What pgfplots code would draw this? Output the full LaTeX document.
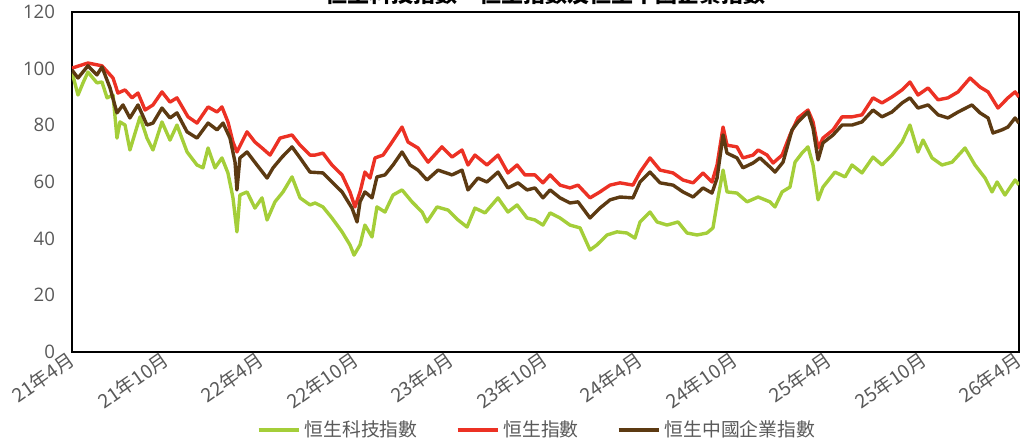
\documentclass[border=0pt]{standalone}
\usepackage{pgfplots}
\pgfplotsset{compat=1.18}
\usepackage{fontspec}
\setmainfont{Open Sans}
\newfontfamily\cjk{Noto Sans CJK TC}

\definecolor{hstech}{RGB}{164,206,57}
\definecolor{hsi}{RGB}{236,49,36}
\definecolor{hscei}{RGB}{92,58,18}
\definecolor{ticktext}{RGB}{89,89,89}

% x = months since Apr 2021
\pgfplotstableread{
x y
0 98.8
0.38 90.7
0.70 95
1.01 98.8
1.58 95
1.90 95.3
2.22 89.7
2.60 90.7
2.85 75.5
3.04 81.2
3.36 80.1
3.67 71.3
4.31 83
4.75 75.5
5.13 71.3
5.70 81.2
6.21 74.8
6.65 80.1
7.29 70.6
7.92 66
8.30 65
8.62 72
9.06 65
9.50 68.5
9.88 63.2
10.20 54.4
10.45 42.4
10.64 55.4
11.09 56.5
11.59 50.8
12.04 54.4
12.36 46.6
12.86 53
13.37 56.5
13.94 61.8
14.45 54.4
15.08 51.9
15.40 52.6
15.90 51.2
16.47 47.3
17.11 42.4
17.61 37.8
17.87 34.2
18.25 37.8
18.56 44.8
19.01 40.6
19.32 51.2
19.83 49.4
20.34 55.4
20.91 57.2
21.54 53
22.18 49.4
22.49 45.9
23.13 51.2
23.82 50.1
24.46 46.6
25.03 44.1
25.53 50.8
26.17 49.1
26.99 54.4
27.62 49.4
28.20 51.9
28.83 47.3
29.33 46.6
29.84 44.8
30.29 49.1
30.92 47.3
31.55 44.8
32.19 43.8
32.82 36
33.26 37.8
33.90 41.3
34.53 42.4
35.16 42
35.67 40.2
35.99 45.9
36.62 49.4
37.07 45.9
37.70 44.8
38.40 45.9
38.97 42
39.60 41.3
40.23 42
40.61 43.8
40.93 54.4
41.25 64.2
41.50 56.5
42.13 56.1
42.77 53
43.47 54.7
44.22 53
44.54 51.2
44.99 56.5
45.49 58.2
45.81 67
46.25 70.2
46.63 72.4
46.95 66
47.27 53.7
47.58 58.2
48.34 63.5
48.98 61.8
49.42 66
50.05 63.2
50.75 68.8
51.32 66
51.95 69.5
52.59 74.1
53.09 80.1
53.60 70.6
53.92 74.8
54.49 68.5
55.12 66
55.76 67
56.58 72
57.21 66
57.85 61.4
58.29 56.5
58.61 60
59.11 55.4
59.75 60.7
60 59
}\hstech

\pgfplotstableread{
x y
0 100.2
1.01 102
1.90 101
2.60 96.7
2.91 91.4
3.36 92.5
3.80 89.7
4.18 91.4
4.63 85.4
5.13 87.2
5.70 91.8
6.21 88.2
6.65 89.7
7.35 83
7.92 80.8
8.62 86.5
9.19 84.7
9.50 86.5
9.88 81.2
10.20 74.1
10.45 70.6
11.09 77.7
11.59 74.1
12.04 72
12.55 69.5
13.18 75.5
13.94 76.6
14.45 73
15.08 69.5
15.40 69.5
15.90 70.2
16.47 66
17.11 62.5
17.61 56.5
17.93 51.2
18.25 56.5
18.56 63.5
18.88 61.4
19.20 68.5
19.71 69.5
20.28 74.1
20.91 79.4
21.29 74.1
21.92 72
22.56 67
23.44 72.4
24.08 68.8
24.71 71.3
25.09 66
25.53 69.5
26.29 66
26.99 69.5
27.62 63.2
28.20 66
28.70 62.5
29.33 62.5
29.84 59.7
30.29 62.5
30.92 58.9
31.55 57.9
32.06 58.9
32.82 54.4
33.45 56.5
34.09 58.9
34.72 59.7
35.54 58.9
35.99 63.5
36.62 68.5
37.26 64.2
38.08 63.2
38.71 60.7
39.35 59.7
39.98 63.2
40.55 60
40.87 66
41.25 79.4
41.50 73
42.13 72.4
42.51 68.5
43.15 69.5
43.47 71.3
44.04 69.5
44.42 66.7
44.99 69.5
45.49 76.6
46.00 82.6
46.63 85.4
46.95 81.2
47.27 72
47.58 75.5
48.22 78.4
48.79 83
49.42 83
50.05 83.7
50.75 89.7
51.32 87.9
51.95 90
52.59 92.5
53.09 95.3
53.60 90.7
54.24 93.2
54.87 89
55.50 89.7
56.14 91.8
56.90 96.7
57.53 93.5
58.04 91.8
58.67 86.1
59.30 89.7
59.75 91.8
60 90
}\hsi

\pgfplotstableread{
x y
0 99.5
0.38 96.7
1.01 101
1.58 97.8
1.90 100.6
2.41 93.2
2.85 84.4
3.23 87.2
3.67 82.6
4.18 87.2
4.75 80.1
5.13 80.8
5.70 86.1
6.21 82.6
6.65 84.4
7.29 77.7
7.92 75.5
8.62 80.8
9.19 78.4
9.57 80.8
10.01 75.5
10.33 67
10.45 57.2
10.64 68.5
11.09 70.6
11.72 66
12.36 61.4
12.74 65
13.31 68.8
13.94 72.4
14.45 68.5
15.08 63.5
15.90 63.2
16.47 60
17.11 56.5
17.74 50.8
18.06 45.9
18.25 53
18.56 56.5
19.01 54.4
19.32 61.8
19.83 62.5
20.34 66
20.91 70.6
21.42 66
21.92 64.2
22.49 60.7
23.19 64.2
24.08 62.5
24.71 64.2
25.09 57.2
25.72 61.4
26.29 60
26.99 63.5
27.62 57.9
28.26 59.7
28.83 57.2
29.33 57.9
29.84 54.4
30.29 57.2
30.92 54.4
31.55 52.6
32.06 53
32.82 47.3
33.45 50.8
34.09 53.7
34.72 54.7
35.54 54.4
35.99 60
36.62 63.5
37.26 59.7
38.08 58.9
38.71 56.5
39.35 54.7
39.98 57.9
40.55 56.1
40.87 61.4
41.25 76.6
41.50 70.2
42.13 68.5
42.51 65
43.15 66.7
43.59 68.5
44.22 65.3
44.54 63.5
45.05 67
45.62 78.4
46.00 81.2
46.63 84.7
46.95 79
47.27 67.8
47.58 73.8
48.22 76.6
48.79 80.1
49.42 80.1
50.05 81.2
50.75 85.4
51.32 83
51.95 84.7
52.59 87.9
53.09 89.7
53.60 86.1
54.24 87.2
54.87 83.7
55.50 82.6
56.14 84.7
57.02 87.2
57.53 84.4
58.04 82.6
58.35 77.3
58.92 78.4
59.30 79.4
59.75 82.6
60 80.8
}\hscei

\begin{document}
\begin{tikzpicture}
\begin{axis}[
    at={(0,0)}, anchor=south west,
    scale only axis,
    width=473.5pt, height=170pt,
    xmin=0, xmax=60,
    ymin=0, ymax=120,
    xtick={0,6,...,60},
    xticklabels={21年4月,21年10月,22年4月,22年10月,23年4月,23年10月,24年4月,24年10月,25年4月,25年10月,26年4月},
    ytick={0,20,...,120},
    major tick length=0pt,
    axis line style={line width=0.8pt},
    tick label style={text=ticktext},
    /pgf/number format/assume math mode=true,
    yticklabel style={font=\fontsize{9.3}{11}\selectfont, xshift=-5pt},
    xticklabel style={font=\cjk\fontsize{9.6}{11}\selectfont, rotate=35, anchor=east, xshift=2pt, yshift=-2pt},
    legend style={at={(0.492,-0.229)}, anchor=center, draw=none,
        legend columns=-1, font=\cjk\fontsize{9.4}{11}\selectfont,
        text=ticktext,
        /tikz/every even column/.append style={column sep=17pt}},
    legend image code/.code={\draw[#1, line width=2pt] (0pt,0pt) -- (20pt,0pt);},
    every axis plot/.append style={line width=1.7pt, line join=round},
]
\addplot[hstech, no markers] table {\hstech};
\addlegendentry{恒生科技指數}
\addplot[hsi, no markers] table {\hsi};
\addlegendentry{恒生指數}
\addplot[hscei, no markers] table {\hscei};
\addlegendentry{恒生中國企業指數}
\end{axis}
\node[anchor=base, font=\cjk\bfseries\fontsize{11}{13}\selectfont] at (236.75pt,174.5pt) {恒生科技指數、恒生指數及恒生中國企業指數};
\pgfresetboundingbox
\useasboundingbox (-36pt,-46pt) rectangle (479.5pt,176pt);
\end{tikzpicture}
\end{document}
